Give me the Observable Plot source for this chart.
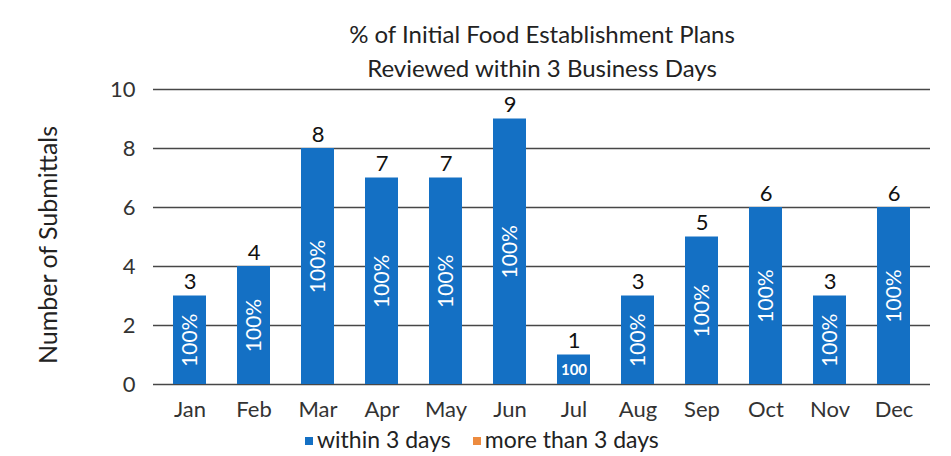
<!DOCTYPE html>
<html><head><meta charset="utf-8">
<script src="https://cdn.jsdelivr.net/npm/d3@7"></script>
<script src="https://cdn.jsdelivr.net/npm/@observablehq/plot@0.6"></script>
<style>
body{margin:0;background:#fff;font-family:Lato,"Open Sans",sans-serif;}
#wrap{position:relative;width:951px;height:456px;}
#title{position:absolute;left:154px;width:776px;top:17px;text-align:center;font-size:24px;line-height:34px;color:#222;}
#legend{position:absolute;left:305px;top:425px;font-size:23px;color:#222;white-space:nowrap;}
#legend span.sw{display:inline-block;width:8px;height:8px;margin-right:4px;vertical-align:middle;position:relative;top:-1px;}
#legend span.item{margin-right:22px;}
</style></head>
<body><div id="wrap">
<div id="chart"></div>
<div id="title">% of Initial Food Establishment Plans<br>Reviewed within 3 Business Days</div>
<div id="legend"></div>
</div>
<script>
const months = ["Jan","Feb","Mar","Apr","May","Jun","Jul","Aug","Sep","Oct","Nov","Dec"];
const within3 = [3,4,8,7,7,9,1,3,5,6,3,6];
const moreThan3 = [0,0,0,0,0,0,0,0,0,0,0,0];
const pctLabels = ["100%","100%","100%","100%","100%","100%","100","100%","100%","100%","100%","100%"];
const yTicks = [0,2,4,6,8,10];
const seriesNames = ["within 3 days","more than 3 days"];
const colors = ["#1470C4","#ED8B3F"];

const data = months.map((m,i)=>({month:m, within:within3[i], more:moreThan3[i], total:within3[i]+moreThan3[i], pct:pctLabels[i]}));
const tall = data.filter(d=>d.within>=2);
const short = data.filter(d=>d.within<2);

const chart = Plot.plot({
  width:951, height:456,
  marginTop:89, marginBottom:72, marginLeft:170, marginRight:39,
  style:{fontFamily:"Lato, 'Open Sans', sans-serif", background:"#fff"},
  x:{domain:months, paddingInner:0.49, paddingOuter:0, label:null},
  y:{domain:[0,10], ticks:yTicks, label:null},
  marks:[
    Plot.ruleY(yTicks,{stroke:"#474747",strokeWidth:1.6, insetLeft:-17, insetRight:-18}),
    Plot.barY(data,{x:"month", y:"within", fill:colors[0]}),
    Plot.text(data,{x:"month", y:"total", text:d=>String(d.total), dy:-14, fontSize:22, fill:"#111"}),
    Plot.text(tall,{x:"month", y:d=>d.within/2, text:"pct", rotate:-90, fill:"#fff", fontSize:21}),
    Plot.text(short,{x:"month", y:d=>d.within/2, text:"pct", fill:"#fff", fontSize:15, fontWeight:"bold"}),
    Plot.axisX({tickSize:0, tickPadding:17, fontSize:22, label:null}),
    Plot.axisY({ticks:yTicks, tickSize:0, tickPadding:35, fontSize:22, label:null}),
    Plot.text(["Number of Submittals"],{frameAnchor:"left", dx:-122, dy:8, rotate:-90, textAnchor:"middle", fontSize:25, fill:"#222"})
  ]
});
chart.querySelectorAll("g[aria-label='x-axis tick label'] text, g[aria-label='y-axis tick label'] text").forEach(t=>t.setAttribute("fill","#333"));
document.getElementById("chart").appendChild(chart);

const leg = document.getElementById("legend");
seriesNames.forEach((n,i)=>{
  const s=document.createElement("span"); s.className="item";
  s.innerHTML=`<span class="sw" style="background:${colors[i]}"></span>${n}`;
  leg.appendChild(s);
});
</script>
</body></html>
